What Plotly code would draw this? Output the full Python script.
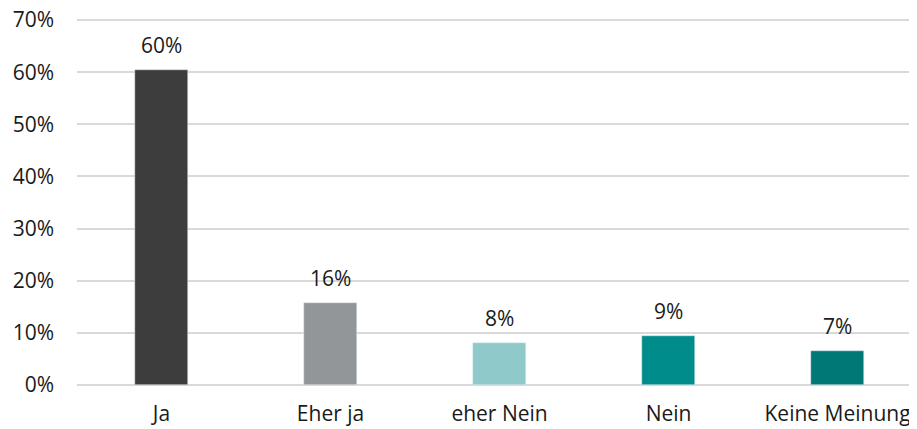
import plotly.graph_objects as go

# Antworten und Anteile
categories = ["Ja", "Eher ja", "eher Nein", "Nein", "Keine Meinung"]
values = [0.604, 0.157, 0.081, 0.094, 0.065]
labels = ["60%", "16%", "8%", "9%", "7%"]
colors = ["#3d3d3d", "#939699", "#8fc9ca", "#008c8a", "#007875"]

fig = go.Figure()
fig.add_trace(go.Bar(x=categories, y=values, marker_color=colors,
                     width=0.314, hoverinfo="skip"))

for c, v, t in zip(categories, values, labels):
    fig.add_annotation(x=c, y=v, text=t, showarrow=False,
                       yanchor="bottom", yshift=9,
                       font=dict(size=21, color="#1a1a1a"))

# the page body adds an 8px margin around the figure; margins account for it
fig.update_layout(
    width=917, height=429,
    margin=dict(l=69, r=8, t=7, b=52, autoexpand=False),
    paper_bgcolor="white", plot_bgcolor="white",
    font=dict(family="Open Sans, Noto Sans, sans-serif", size=21, color="#1a1a1a"),
    showlegend=False,
    bargap=0,
)
fig.update_xaxes(range=[-0.5, 4.47], showgrid=False, showline=False,
                 ticks="", ticklabelstandoff=14, automargin=False,
                 ticklabeloverflow="allow")
fig.update_yaxes(range=[0, 0.7096], tickvals=[0, 0.1, 0.2, 0.3, 0.4, 0.5, 0.6, 0.7],
                 tickformat=".0%",
                 showgrid=True, gridcolor="#d9d9d9", gridwidth=2,
                 zeroline=True, zerolinecolor="#d9d9d9", zerolinewidth=2,
                 showline=False, ticks="", ticklabelstandoff=22, automargin=False,
                 ticklabeloverflow="allow")

fig.write_html("out.html")
